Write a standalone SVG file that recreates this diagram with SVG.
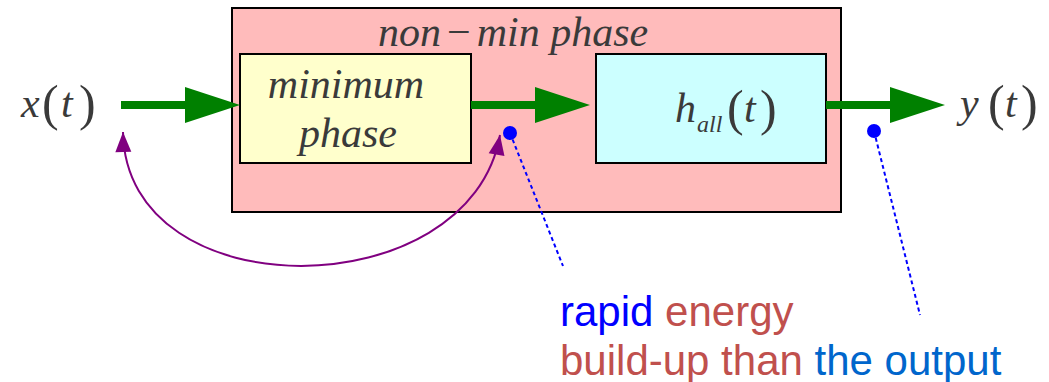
<svg xmlns="http://www.w3.org/2000/svg" width="1049" height="382" viewBox="0 0 1049 382">
<style>
.m{font-family:"Liberation Serif","DejaVu Serif",serif;font-style:italic;fill:#3a3a3a;font-size:42px}
.sub{font-size:24px}
.p{font-family:"Liberation Serif","DejaVu Serif",serif;font-style:normal;fill:#3a3a3a;font-size:50px}
.s{font-family:"Liberation Sans",Arial,sans-serif;font-size:42px}
.g{stroke:#008000;stroke-width:8;fill:none}
.d{stroke:#0000ff;stroke-width:2;stroke-dasharray:4 3;fill:none}
</style>
<defs>
<marker id="ga" markerUnits="userSpaceOnUse" markerWidth="56" markerHeight="38" refX="0" refY="18" orient="auto" overflow="visible">
<path d="M0,0 L55,18 L0,36 Z" fill="#008000"/>
</marker>
<marker id="pa" markerUnits="userSpaceOnUse" markerWidth="20" markerHeight="20" refX="20" refY="8" orient="auto-start-reverse" overflow="visible">
<path d="M0,0 L20,8 L0,16 Z" fill="#800080"/>
</marker>
</defs>
<g id="outer">
<rect x="232" y="8" width="609" height="204" fill="#ffbbbb" stroke="#000" stroke-width="2"/>
<text class="m" x="378" y="46">non<tspan font-style="normal" dx="6">−</tspan><tspan dx="6">min phase</tspan></text>
</g>
<g id="minphase">
<rect x="240" y="54" width="231" height="109" fill="#ffffcc" stroke="#000" stroke-width="2"/>
<text class="m" x="346" y="98" text-anchor="middle">minimum</text>
<text class="m" x="348" y="147" text-anchor="middle">phase</text>
</g>
<g id="hall">
<rect x="596" y="54" width="230" height="109" fill="#ccffff" stroke="#000" stroke-width="2"/>
<text class="m" x="675" y="122">h</text>
<text class="m sub" x="697" y="132">all</text>
<text class="p" x="727" y="125">(</text>
<text class="m" x="744" y="122">t</text>
<text class="p" x="760" y="125">)</text>
</g>
<g id="input">
<text class="m" x="21" y="117">x</text>
<text class="p" x="42" y="120">(</text>
<text class="m" x="61" y="117">t</text>
<text class="p" x="79" y="120">)</text>
</g>
<g id="output">
<text class="m" x="960" y="117">y</text>
<text class="p" x="988" y="120">(</text>
<text class="m" x="1005" y="117">t</text>
<text class="p" x="1021" y="120">)</text>
</g>
<g id="connectors">
<line class="g" x1="121" y1="105" x2="185" y2="105" marker-end="url(#ga)"/>
<line class="g" x1="471" y1="105" x2="535" y2="105" marker-end="url(#ga)"/>
<line class="g" x1="826" y1="105" x2="890" y2="105" marker-end="url(#ga)"/>
<path d="M123,132 C126,312 470,308 500,135" fill="none" stroke="#800080" stroke-width="2" marker-start="url(#pa)" marker-end="url(#pa)"/>
<line class="d" x1="510" y1="133" x2="563" y2="266"/>
<line class="d" x1="874" y1="131" x2="920" y2="315"/>
<circle cx="510" cy="133" r="7" fill="#0000ff"/>
<circle cx="874" cy="131" r="7" fill="#0000ff"/>
</g>
<g id="note">
<text class="s" x="560" y="326"><tspan fill="#0000ff">rapid</tspan><tspan fill="#c0504d"> energy</tspan></text>
<text class="s" x="560" y="375"><tspan fill="#c0504d">build-up than </tspan><tspan fill="#0066cc">the output</tspan></text>
</g>
</svg>
